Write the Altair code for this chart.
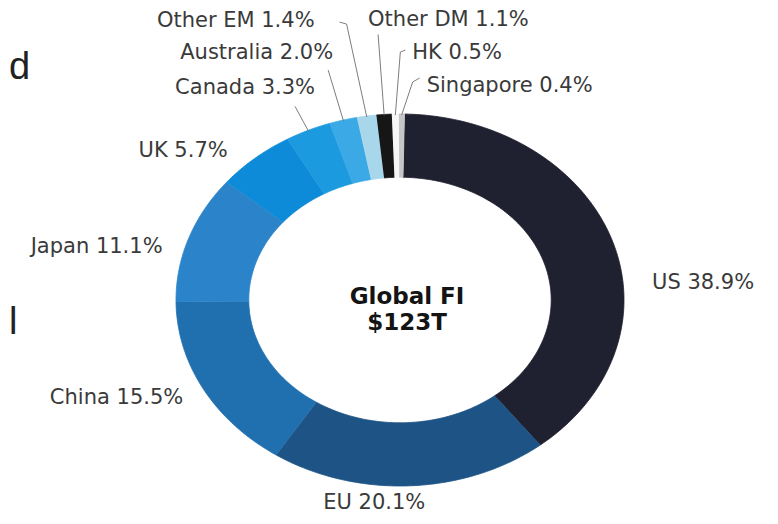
import math
import pandas as pd
import altair as alt

# ---------------- data ----------------
categories = ["US", "EU", "China", "Japan", "UK", "Canada", "Australia",
              "Other EM", "Other DM", "HK", "Singapore"]
shares = [38.9, 20.1, 15.5, 11.1, 5.7, 3.3, 2.0, 1.4, 1.1, 0.5, 0.4]
colors = ["#1f2030", "#1d5485", "#2070b0", "#2b84c9", "#0e8bd8", "#1c9ae0",
          "#3aa9e5", "#a8d7ec", "#161616", "#f6f6f6", "#c6c6c6"]
center_lines = ["Global FI", "$123T"]
fragments = ["d", "l"]

# ---------------- layout (page pixels) ----------------
CX, CY = 400, 300          # donut centre
RX, RY = 224, 186          # outer radii (donut is drawn as an ellipse)
INNER = (0.675, 0.66)      # inner radius fractions (x, y)
OFFSET = 0.02              # rotation of the first slice (radians)
W, H = 762, 508

# label placement: align, nudge from slice mid point on outer edge, leader bends
LABEL_LAYOUT = {
    "US":        ("left",   40,   43,   []),
    "EU":        ("center", -36,  17.5, []),
    "China":     ("right",  -20,  9,    []),
    "Japan":     ("right",  -26,  9,    []),
    "UK":        ("right",  -27,  -7,   []),
    "Canada":    ("right",  7,    -42,  [(-20, 18)]),
    "Australia": ("right",  -10,  -67,  [(-5, 17)]),
    "Other EM":  ("right",  -52,  -95,  [(32, 3), (25, 1)]),
    "Other DM":  ("left",   -16,  -94,  [(10, 14)]),
    "HK":        ("left",   17,   -61,  [(-12, -1), (-7, -3)]),
    "Singapore": ("left",   25,   -28,  [(-14, -4), (-7, -8)]),
}

total = sum(shares)


def pt(t, fx=1.0, fy=1.0):
    return CX + RX * fx * math.sin(t), CY - RY * fy * math.cos(t)


slice_rows, label_rows, leader_rows = [], [], []
cum = 0.0
for i, (cat, val, col) in enumerate(zip(categories, shares, colors)):
    a0 = 2 * math.pi * cum / total + OFFSET
    a1 = 2 * math.pi * (cum + val) / total + OFFSET
    cum += val
    n = max(4, int((a1 - a0) / (2 * math.pi) * 360))
    k = 0
    for j in range(n + 1):
        t = a0 + (a1 - a0) * j / n
        x, y = pt(t)
        slice_rows.append(dict(cat=cat, color=col, k=k, x=x, y=y)); k += 1
    for j in range(n + 1):
        t = a1 - (a1 - a0) * j / n
        x, y = pt(t, *INNER)
        slice_rows.append(dict(cat=cat, color=col, k=k, x=x, y=y)); k += 1

    mid = (a0 + a1) / 2
    ax, ay = pt(mid)
    align, dx, dy, bends = LABEL_LAYOUT[cat]
    lx, ly = ax + dx, ay + dy
    label_rows.append(dict(cat=cat, label=f"{cat} {val:.1f}%", align=align, x=lx, y=ly))
    if bends:
        sx, sy = pt(mid, 0.995, 0.995)
        leader_rows.append(dict(cat=cat, k=0, x=sx, y=sy))
        for m, (bx, by) in enumerate(bends):
            leader_rows.append(dict(cat=cat, k=m + 1, x=lx + bx, y=ly + by))

slices = pd.DataFrame(slice_rows)
labels = pd.DataFrame(label_rows)
leaders = pd.DataFrame(leader_rows)
center = pd.DataFrame({"text": center_lines, "x": [CX + 7, CX + 7], "y": [CY - 3, CY + 23]})
frag = pd.DataFrame({"text": fragments, "x": [9, 9], "y": [68, 323]})

xs = alt.Scale(domain=[8, 8 + W], nice=False, zero=False)
ys = alt.Scale(domain=[8, 8 + H], nice=False, zero=False, reverse=True)
X = lambda f="x": alt.X(f"{f}:Q", scale=xs, axis=None)
Y = lambda f="y": alt.Y(f"{f}:Q", scale=ys, axis=None)

ring = alt.Chart(slices).mark_line(strokeWidth=0.8, strokeJoin="round", interpolate="linear").encode(
    x=X(), y=Y(), order="k:Q", detail="cat:N",
    stroke=alt.Stroke("color:N", scale=None),
    fill=alt.Fill("color:N", scale=None),
)

lead = alt.Chart(leaders).mark_line(stroke="#6e6e6e", strokeWidth=0.9).encode(
    x=X(), y=Y(), order="k:Q", detail="cat:N"
)

FONT = "DejaVu Sans"
text_layers = []
for al in ["left", "right", "center"]:
    text_layers.append(
        alt.Chart(labels).transform_filter(alt.datum.align == al)
        .mark_text(align=al, baseline="middle", font=FONT, fontSize=21, color="#3a3a3a")
        .encode(x=X(), y=Y(), text="label:N")
    )

ctext = alt.Chart(center).mark_text(align="center", baseline="middle", font=FONT,
                                    fontSize=23, fontWeight="bold", color="#141414").encode(
    x=X(), y=Y(), text="text:N")

ftext = alt.Chart(frag).mark_text(align="left", baseline="middle", font="Liberation Sans",
                                  fontSize=38, color="#222222").encode(
    x=X(), y=Y(), text="text:N")

chart = alt.layer(ring, lead, *text_layers, ctext, ftext).properties(
    width=W, height=H, padding=0,
    autosize=alt.AutoSizeParams(type="none"),
).configure_view(stroke=None)

chart.save("out.html", embed_options={"renderer": "svg", "actions": False})
